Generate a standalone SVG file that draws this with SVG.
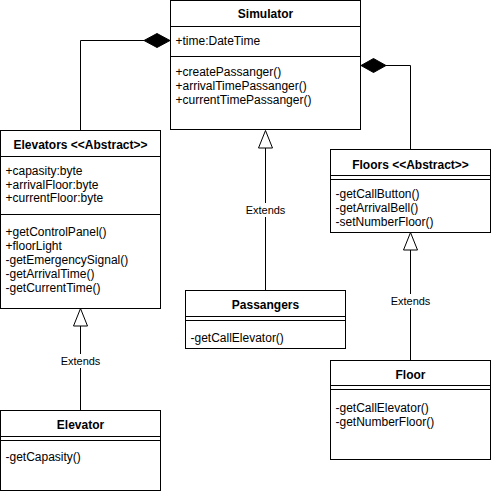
<svg xmlns="http://www.w3.org/2000/svg" width="491" height="494" viewBox="0 0 491 494">
<style>
.box{fill:#fff;stroke:#000;stroke-width:1}
.ln{stroke:#000;stroke-width:1;fill:none}
.t{font-family:"Liberation Sans",Arial,sans-serif;font-size:12px;font-weight:bold;fill:#000;text-anchor:middle}
.m{font-family:"Liberation Sans",Arial,sans-serif;font-size:12px;fill:#000}
.lbl{font-family:"Liberation Sans",Arial,sans-serif;font-size:11px;fill:#000;text-anchor:middle}
.dia{fill:#000;stroke:#000;stroke-width:1}
.tri{fill:#fff;stroke:#000;stroke-width:1}
</style>
<rect width="491" height="494" fill="#fff"/>
<g id="connectors">
  <path class="ln" d="M80.5,130.5 V40.5 H144"/>
  <path class="dia" d="M170,40.5 L157,33.5 L144,40.5 L157,47.5 Z"/>
  <path class="ln" d="M410.5,150 V65.5 H386"/>
  <path class="dia" d="M361,65.5 L373.5,58.5 L386,65.5 L373.5,72.5 Z"/>
  <path class="ln" d="M265.5,290 V148"/>
  <path class="tri" d="M265.5,130.5 L272.5,148 L258.5,148 Z"/>
  <rect x="243" y="203" width="45" height="14" fill="#fff"/>
  <text class="lbl" x="265.5" y="214">Extends</text>
  <path class="ln" d="M80.5,410 V326"/>
  <path class="tri" d="M80.5,308.5 L87.5,326 L73.5,326 Z"/>
  <rect x="58" y="354" width="45" height="14" fill="#fff"/>
  <text class="lbl" x="80.5" y="365">Extends</text>
  <path class="ln" d="M410.5,360 V250"/>
  <path class="tri" d="M410.5,232.5 L417.5,250 L403.5,250 Z"/>
  <rect x="388" y="294" width="45" height="14" fill="#fff"/>
  <text class="lbl" x="410.5" y="305">Extends</text>
</g>
<g id="simulator">
  <rect class="box" x="170.5" y="0.5" width="190" height="129"/>
  <line class="ln" x1="170.5" y1="26.5" x2="360.5" y2="26.5"/>
  <line class="ln" x1="170.5" y1="56.5" x2="360.5" y2="56.5"/>
  <text class="t" x="265.5" y="17.5">Simulator</text>
  <text class="m" x="175.5" y="44.5">+time:DateTime</text>
  <text class="m" x="175.5" y="76">+createPassanger()</text>
  <text class="m" x="175.5" y="90">+arrivalTimePassanger()</text>
  <text class="m" x="175.5" y="104">+currentTimePassanger()</text>
</g>
<g id="elevators">
  <rect class="box" x="0.5" y="130.5" width="160" height="178"/>
  <line class="ln" x1="0.5" y1="156.5" x2="160.5" y2="156.5"/>
  <line class="ln" x1="0.5" y1="214.5" x2="160.5" y2="214.5"/>
  <text class="t" x="80.5" y="149">Elevators &lt;&lt;Abstract&gt;&gt;</text>
  <text class="m" x="5.5" y="175">+capasity:byte</text>
  <text class="m" x="5.5" y="188.5">+arrivalFloor:byte</text>
  <text class="m" x="5.5" y="202">+currentFloor:byte</text>
  <text class="m" x="5.5" y="236">+getControlPanel()</text>
  <text class="m" x="5.5" y="250">+floorLight</text>
  <text class="m" x="5.5" y="264">-getEmergencySignal()</text>
  <text class="m" x="5.5" y="278">-getArrivalTime()</text>
  <text class="m" x="5.5" y="292">-getCurrentTime()</text>
</g>
<g id="floors">
  <rect class="box" x="330.5" y="149.5" width="160" height="83"/>
  <line class="ln" x1="330.5" y1="175.5" x2="490.5" y2="175.5"/>
  <line class="ln" x1="330.5" y1="179.5" x2="490.5" y2="179.5"/>
  <text class="t" x="410.5" y="169">Floors &lt;&lt;Abstract&gt;&gt;</text>
  <text class="m" x="335.5" y="198">-getCallButton()</text>
  <text class="m" x="335.5" y="212">-getArrivalBell()</text>
  <text class="m" x="335.5" y="226">-setNumberFloor()</text>
</g>
<g id="passangers">
  <rect class="box" x="185.5" y="290.5" width="160" height="58"/>
  <line class="ln" x1="185.5" y1="316.5" x2="345.5" y2="316.5"/>
  <line class="ln" x1="185.5" y1="320.5" x2="345.5" y2="320.5"/>
  <text class="t" x="265.5" y="309">Passangers</text>
  <text class="m" x="190.5" y="342">-getCallElevator()</text>
</g>
<g id="floor">
  <rect class="box" x="330.5" y="360.5" width="160" height="99"/>
  <line class="ln" x1="330.5" y1="385.5" x2="490.5" y2="385.5"/>
  <line class="ln" x1="330.5" y1="389.5" x2="490.5" y2="389.5"/>
  <text class="t" x="410.5" y="379">Floor</text>
  <text class="m" x="335.5" y="412">-getCallElevator()</text>
  <text class="m" x="335.5" y="426">-getNumberFloor()</text>
</g>
<g id="elevator">
  <rect class="box" x="0.5" y="410.5" width="160" height="80"/>
  <line class="ln" x1="0.5" y1="436.5" x2="160.5" y2="436.5"/>
  <line class="ln" x1="0.5" y1="440.5" x2="160.5" y2="440.5"/>
  <text class="t" x="80.5" y="429">Elevator</text>
  <text class="m" x="5.5" y="461">-getCapasity()</text>
</g>
</svg>
